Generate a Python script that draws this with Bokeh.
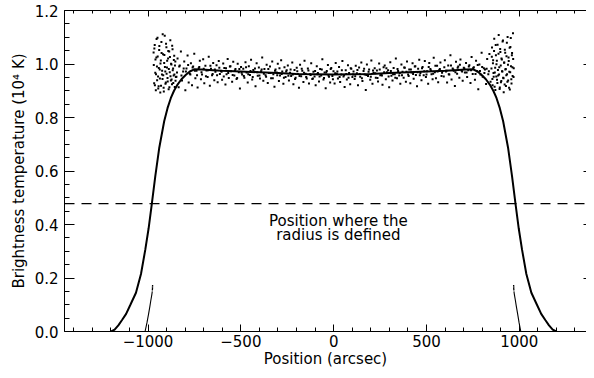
from bokeh.plotting import figure
from bokeh.models import Range1d, FixedTicker, LinearAxis, PrintfTickFormatter, Span, Label
from bokeh.embed import file_html
from bokeh.resources import INLINE

FONT = "DejaVu Sans"

# ---- model profile (thick curve) ----
profile_x = [-1199, -1180, -1160, -1140, -1118, -1095, -1065, -1038, -1015, -997, -981, -961,
             -940, -913, -895, -877, -860, -841, -820, -796, -775, -751, -711, -650, -600,
             -500, -400, -300, -200, -100, 0,
             100, 200, 300, 400, 500, 600, 650, 711, 751, 775, 796, 820, 841, 860, 877, 895,
             913, 940, 961, 981, 997, 1015, 1038, 1065, 1095, 1118, 1140, 1160, 1180, 1199]
profile_y = [0.000, 0.007, 0.023, 0.043, 0.066, 0.100, 0.145, 0.215, 0.305, 0.385, 0.470, 0.580,
             0.685, 0.786, 0.835, 0.873, 0.900, 0.923, 0.943, 0.960, 0.972, 0.980, 0.979, 0.977, 0.975,
             0.972, 0.969, 0.966, 0.963, 0.962, 0.961,
             0.962, 0.963, 0.966, 0.969, 0.972, 0.975, 0.977, 0.979, 0.980, 0.972, 0.960, 0.943, 0.923, 0.900, 0.873, 0.835,
             0.786, 0.685, 0.580, 0.470, 0.385, 0.305, 0.215, 0.145, 0.100, 0.066, 0.043, 0.023, 0.007, 0.000]

# ---- limb samples (thin steep lines) ----
limb_left_x = [-1016, -1006, -997, -990, -985, -980, -977]
limb_left_y = [0.000, 0.032, 0.066, 0.094, 0.116, 0.136, 0.150]
limb_right_x = [1008, 999, 991, 984, 979, 974, 971]
limb_right_y = [0.000, 0.032, 0.066, 0.094, 0.116, 0.136, 0.150]
limb_dots_x = [-976.5, -976, -976, -975.5, 970.5, 970, 970, 969.5]
limb_dots_y = [0.156, 0.161, 0.166, 0.171, 0.156, 0.161, 0.166, 0.171]

# ---- observed data (scatter) ----
edge_left_x = [-970, -967, -964, -961, -958, -955, -952, -949, -946, -943, -940, -937, -934, -931,
               -928, -925, -922, -919, -916, -913, -910, -907, -904, -901, -898, -895, -892, -889,
               -886, -883, -880, -877, -874, -871, -868, -865, -862, -859, -856, -853, -850,
               -969, -966, -963, -960, -957, -954, -951, -948, -945, -942, -939, -936, -933, -930,
               -927, -924, -921, -918, -915, -912, -909, -906, -903, -900, -897, -894, -891, -888,
               -885, -882, -879, -876, -873, -870, -867, -864, -861, -858, -855, -852]
edge_left_y = [1.043, 0.928, 1.071, 0.967, 0.902, 1.024, 0.991, 1.098, 0.953, 0.917, 1.052, 0.979,
               0.893, 1.013, 1.082, 0.961, 0.944, 1.036, 0.911, 1.004, 1.106, 0.972, 0.931, 1.063,
               0.987, 0.948, 1.021, 0.906, 1.047, 0.969, 1.089, 0.938, 0.998, 0.924, 1.055, 0.983,
               0.957, 1.031, 0.914, 1.009, 0.951,
               0.996, 1.058, 0.921, 1.017, 0.962, 1.093, 0.939, 1.028, 0.908, 0.985, 1.067, 0.946,
               1.002, 0.919, 1.041, 0.975, 1.111, 0.958, 0.897, 1.034, 0.989, 0.926, 1.076, 0.964,
               1.012, 0.935, 1.049, 0.981, 0.913, 1.026, 0.954, 1.001, 0.942, 1.068, 0.977, 0.929,
               1.015, 0.961, 0.994, 0.937]

edge_right_x = [850, 853, 856, 859, 862, 865, 868, 871, 874, 877, 880, 883, 886, 889, 892, 895,
                898, 901, 904, 907, 910, 913, 916, 919, 922, 925, 928, 931, 934, 937, 940, 943,
                946, 949, 952, 955, 958, 961, 964, 967, 970,
                852, 855, 858, 861, 864, 867, 870, 873, 876, 879, 882, 885, 888, 891, 894, 897,
                900, 903, 906, 909, 912, 915, 918, 921, 924, 927, 930, 933, 936, 939, 942, 945,
                948, 951, 954, 957, 960, 963, 966, 969]
edge_right_y = [0.983, 1.062, 0.921, 1.014, 0.952, 1.094, 0.968, 0.903, 1.033, 0.999, 0.941, 1.072,
                0.957, 1.108, 0.988, 0.912, 1.045, 0.932, 1.021, 0.973, 1.084, 0.949, 0.894, 1.006,
                1.053, 0.979, 0.918, 1.029, 0.962, 1.101, 0.938, 1.011, 0.971, 0.905, 1.064, 0.992,
                0.927, 1.041, 0.955, 1.019, 0.984,
                1.027, 0.944, 1.003, 0.966, 1.049, 0.915, 0.986, 1.071, 0.953, 1.012, 0.929, 0.978,
                1.038, 0.961, 0.907, 1.056, 0.994, 0.936, 1.017, 0.972, 1.088, 0.947, 1.005, 0.923,
                1.042, 0.981, 0.958, 1.079, 0.934, 0.997, 1.024, 0.911, 1.061, 0.969, 1.097, 0.943,
                1.033, 0.988, 1.115, 0.951]

mid_x = [-847, -841, -835, -829, -823, -817, -811, -805, -799, -793, -787, -781, -775, -769, -763, -757, -751, -745, -739, -733,
         -727, -721, -715, -709, -703, -697, -691, -685, -679, -673, -667, -661, -655, -649, -643, -637, -631, -625, -619, -613,
         -607, -601, -595, -589, -583, -577, -571, -565, -559, -553, -547, -541, -535, -529, -523, -517, -511, -505, -499, -493,
         -487, -481, -475, -469, -463, -457, -451, -445, -439, -433, -427, -421, -415, -409, -403, -397, -391, -385, -379, -373,
         -367, -361, -355, -349, -343, -337, -331, -325, -319, -313, -307, -301, -295, -289, -283, -277, -271, -265, -259, -253,
         -247, -241, -235, -229, -223, -217, -211, -205, -199, -193, -187, -181, -175, -169, -163, -157, -151, -145, -139, -133,
         -127, -121, -115, -109, -103, -97, -91, -85, -79, -73, -67, -61, -55, -49, -43, -37, -31, -25, -19, -13,
         -7, -1, 5, 11, 17, 23, 29, 35, 41, 47, 53, 59, 65, 71, 77, 83, 89, 95, 101, 107,
         113, 119, 125, 131, 137, 143, 149, 155, 161, 167, 173, 179, 185, 191, 197, 203, 209, 215, 221, 227,
         233, 239, 245, 251, 257, 263, 269, 275, 281, 287, 293, 299, 305, 311, 317, 323, 329, 335, 341, 347,
         353, 359, 365, 371, 377, 383, 389, 395, 401, 407, 413, 419, 425, 431, 437, 443, 449, 455, 461, 467,
         473, 479, 485, 491, 497, 503, 509, 515, 521, 527, 533, 539, 545, 551, 557, 563, 569, 575, 581, 587,
         593, 599, 605, 611, 617, 623, 629, 635, 641, 647, 653, 659, 665, 671, 677, 683, 689, 695, 701, 707,
         713, 719, 725, 731, 737, 743, 749, 755, 761, 767, 773, 779, 785, 791, 797, 803, 809, 815, 821, 827,
         833, 839, 845]
mid_y = [0.952, 1.021, 0.913, 0.994, 1.047, 0.938, 0.972, 1.009, 0.902, 0.983, 1.032, 0.931, 0.964, 1.003, 0.921, 0.991, 1.038, 0.947, 0.975, 0.912,
         0.984, 1.012, 0.943, 0.961, 1.018, 0.928, 0.993, 0.976, 0.951, 1.027, 0.919, 0.982, 0.958, 1.004, 0.939, 0.971, 0.995, 0.932, 1.011, 0.963,
         0.974, 0.941, 1.002, 0.985, 0.923, 0.962, 1.019, 0.948, 0.991, 0.973, 0.934, 1.008, 0.957, 0.981, 0.944, 1.001, 0.969, 0.908, 0.989, 0.961,
         0.982, 0.949, 1.007, 0.968, 0.931, 0.992, 0.959, 1.016, 0.942, 0.978, 0.971, 0.917, 1.003, 0.956, 0.987, 0.946, 0.973, 1.024, 0.937, 0.981,
         0.958, 0.997, 0.929, 0.966, 0.991, 0.947, 1.009, 0.962, 0.915, 0.979, 0.968, 1.001, 0.936, 0.957, 1.014, 0.972, 0.926, 0.988, 0.951, 0.977,
         0.994, 0.938, 0.967, 0.955, 1.006, 0.924, 0.978, 0.949, 0.986, 0.963, 0.911, 0.997, 0.954, 0.975, 0.933, 1.012, 0.964, 0.946, 0.983, 0.927,
         0.962, 1.003, 0.944, 0.971, 0.953, 0.921, 0.992, 0.966, 0.935, 0.981, 0.957, 1.018, 0.942, 0.968, 0.909, 0.974, 0.996, 0.952, 0.931, 0.985,
         0.955, 0.973, 0.927, 1.004, 0.964, 0.946, 0.989, 0.933, 0.961, 1.011, 0.953, 0.914, 0.977, 0.942, 0.995, 0.966, 0.924, 0.982, 0.951, 0.972,
         0.944, 0.993, 0.965, 0.921, 0.987, 0.952, 1.006, 0.936, 0.974, 0.961, 0.903, 0.998, 0.955, 0.979, 0.941, 1.013, 0.926, 0.967, 0.984, 0.949,
         0.976, 0.935, 1.002, 0.958, 0.963, 0.922, 0.988, 0.994, 0.943, 0.969, 0.977, 0.913, 1.007, 0.956, 0.938, 0.985, 0.962, 1.021, 0.947, 0.974,
         0.957, 0.926, 0.998, 0.971, 0.949, 0.986, 0.934, 1.009, 0.961, 0.979, 0.928, 0.968, 1.003, 0.945, 0.991, 0.959, 0.917, 0.982, 1.016, 0.966,
         0.939, 0.989, 0.958, 1.011, 0.951, 0.973, 0.926, 1.004, 0.981, 0.962, 0.943, 1.023, 0.969, 0.947, 0.993, 0.932, 0.978, 1.006, 0.955, 0.974,
         0.953, 1.014, 0.972, 0.931, 0.994, 0.961, 1.033, 0.942, 0.983, 0.975, 0.918, 1.008, 0.964, 0.991, 0.949, 1.017, 0.976, 0.937, 0.986, 0.968,
         1.004, 0.951, 0.977, 0.995, 0.929, 1.026, 0.963, 0.988, 0.941, 1.012, 0.973, 0.906, 0.998, 0.961, 1.042, 0.952, 0.984, 0.979, 0.925, 1.019,
         0.962, 1.037, 0.934]

core_x = [-844, -832, -820, -808, -796, -784, -772, -760, -748, -736, -724, -712, -700, -688, -676, -664, -652, -640, -628, -616,
          -604, -592, -580, -568, -556, -544, -532, -520, -508, -496, -484, -472, -460, -448, -436, -424, -412, -400, -388, -376,
          -364, -352, -340, -328, -316, -304, -292, -280, -268, -256, -244, -232, -220, -208, -196, -184, -172, -160, -148, -136,
          -124, -112, -100, -88, -76, -64, -52, -40, -28, -16, -4, 8, 20, 32, 44, 56, 68, 80, 92, 104,
          116, 128, 140, 152, 164, 176, 188, 200, 212, 224, 236, 248, 260, 272, 284, 296, 308, 320, 332, 344,
          356, 368, 380, 392, 404, 416, 428, 440, 452, 464, 476, 488, 500, 512, 524, 536, 548, 560, 572, 584,
          596, 608, 620, 632, 644, 656, 668, 680, 692, 704, 716, 728, 740, 752, 764, 776, 788, 800, 812, 824,
          836]
core_y = [0.968, 0.991, 0.957, 0.983, 0.972, 0.996, 0.961, 0.987, 0.975, 0.958, 0.989, 0.969, 0.982, 0.954, 0.977, 0.993, 0.963, 0.979, 0.958, 0.986,
          0.971, 0.953, 0.984, 0.966, 0.992, 0.959, 0.976, 0.948, 0.981, 0.967, 0.955, 0.988, 0.962, 0.974, 0.951, 0.983, 0.969, 0.957, 0.979, 0.964,
          0.952, 0.981, 0.966, 0.947, 0.975, 0.958, 0.984, 0.963, 0.949, 0.972, 0.956, 0.979, 0.961, 0.944, 0.973, 0.955, 0.982, 0.967, 0.951, 0.976,
          0.959, 0.946, 0.974, 0.962, 0.953, 0.979, 0.948, 0.968, 0.957, 0.981, 0.943, 0.965, 0.972, 0.951, 0.977, 0.958, 0.963, 0.949, 0.984, 0.961,
          0.954, 0.978, 0.963, 0.947, 0.982, 0.959, 0.971, 0.952, 0.976, 0.965, 0.948, 0.979, 0.957, 0.969, 0.984, 0.953, 0.974, 0.962, 0.949, 0.981,
          0.966, 0.958, 0.987, 0.971, 0.955, 0.979, 0.963, 0.992, 0.969, 0.958, 0.984, 0.973, 0.961, 0.989, 0.976, 0.964, 0.993, 0.972, 0.981, 0.967,
          0.988, 0.975, 0.962, 0.994, 0.979, 0.969, 0.986, 0.997, 0.972, 0.983, 0.968, 0.991, 0.977, 0.985, 0.963, 0.996, 0.974, 0.989, 0.966, 0.982,
          0.973]

# ---- reference level and axes ----
radius_level = 0.478
x_major = [-1000, -500, 0, 500, 1000]
x_minor = list(range(-1400, 1401, 100))
y_major = [0.0, 0.2, 0.4, 0.6, 0.8, 1.0, 1.2]
y_minor = [round(0.05 * k, 2) for k in range(25)]
x_label_overrides = {-1000: "\u22121000", -500: "\u2212500"}

p = figure(width=586, height=370, output_backend="svg", toolbar_location=None,
           x_range=Range1d(-1450, 1362), y_range=Range1d(0, 1.2),
           x_axis_type=None, y_axis_type=None,
           min_border_left=64, min_border_right=0, min_border_top=10, min_border_bottom=39)
p.outline_line_color = None
p.background_fill_color = "white"
p.border_fill_color = "white"


def style(ax):
    ax.axis_line_color = "black"
    ax.axis_line_width = 1
    ax.major_tick_line_color = "black"
    ax.minor_tick_line_color = "black"
    ax.major_tick_out = 0
    ax.minor_tick_out = 0
    ax.major_label_text_font = FONT
    ax.major_label_text_font_size = "15px"
    ax.major_label_text_color = "black"
    ax.axis_label_text_font = FONT
    ax.axis_label_text_font_size = "15px"
    ax.axis_label_text_font_style = "normal"
    ax.axis_label_text_color = "black"


bottom = LinearAxis(ticker=FixedTicker(ticks=x_major, minor_ticks=x_minor),
                    axis_label="Position (arcsec)")
style(bottom)
bottom.major_tick_in = 7
bottom.minor_tick_in = 4
bottom.major_label_standoff = 3
bottom.axis_label_standoff = 0
bottom.major_label_overrides = x_label_overrides
p.add_layout(bottom, "below")

left = LinearAxis(ticker=FixedTicker(ticks=y_major, minor_ticks=y_minor),
                  formatter=PrintfTickFormatter(format="%.1f"),
                  axis_label="Brightness temperature (10\u2074 K)")
style(left)
left.major_tick_in = 10
left.minor_tick_in = 5
left.major_label_standoff = 6
left.axis_label_standoff = 4
p.add_layout(left, "left")

# top edge: tick marks only (drawn as label-free minor ticks)
top_minor = LinearAxis(ticker=FixedTicker(ticks=[], minor_ticks=x_minor))
style(top_minor)
top_minor.minor_tick_in = 3
top_minor.major_label_standoff = 0
p.add_layout(top_minor, "above")

top_major = LinearAxis(ticker=FixedTicker(ticks=[], minor_ticks=x_major))
style(top_major)
top_major.axis_line_color = None
top_major.minor_tick_in = 6
top_major.major_label_standoff = 0
p.add_layout(top_major, "above")

# right edge: short tick stubs only
right = LinearAxis(ticker=FixedTicker(ticks=[], minor_ticks=y_major))
style(right)
right.axis_line_color = None
right.minor_tick_in = 3
right.major_label_standoff = 0
p.add_layout(right, "right")

# scatter data
for xs, ys in [(edge_left_x, edge_left_y), (edge_right_x, edge_right_y),
               (mid_x, mid_y), (core_x, core_y)]:
    p.scatter(xs, ys, marker="square", size=2, fill_color="black", line_color=None)

# limb samples
p.line(limb_left_x, limb_left_y, line_color="black", line_width=1.1)
p.line(limb_right_x, limb_right_y, line_color="black", line_width=1.1)
p.scatter(limb_dots_x, limb_dots_y, marker="square", size=1.3, fill_color="black", line_color=None)

# model curve
p.line(profile_x, profile_y, line_color="black", line_width=2)

# radius level
p.add_layout(Span(location=radius_level, dimension="width", line_color="black",
                  line_width=1.4, line_dash="10 7"))

p.add_layout(Label(x=25, y=0.414, text="Position where the", text_align="center",
                   text_baseline="alphabetic", text_font=FONT, text_font_size="15px",
                   text_color="black"))
p.add_layout(Label(x=25, y=0.360, text="radius is defined", text_align="center",
                   text_baseline="alphabetic", text_font=FONT, text_font_size="15px",
                   text_color="black"))

open("out.html", "w").write(file_html(p, INLINE))
